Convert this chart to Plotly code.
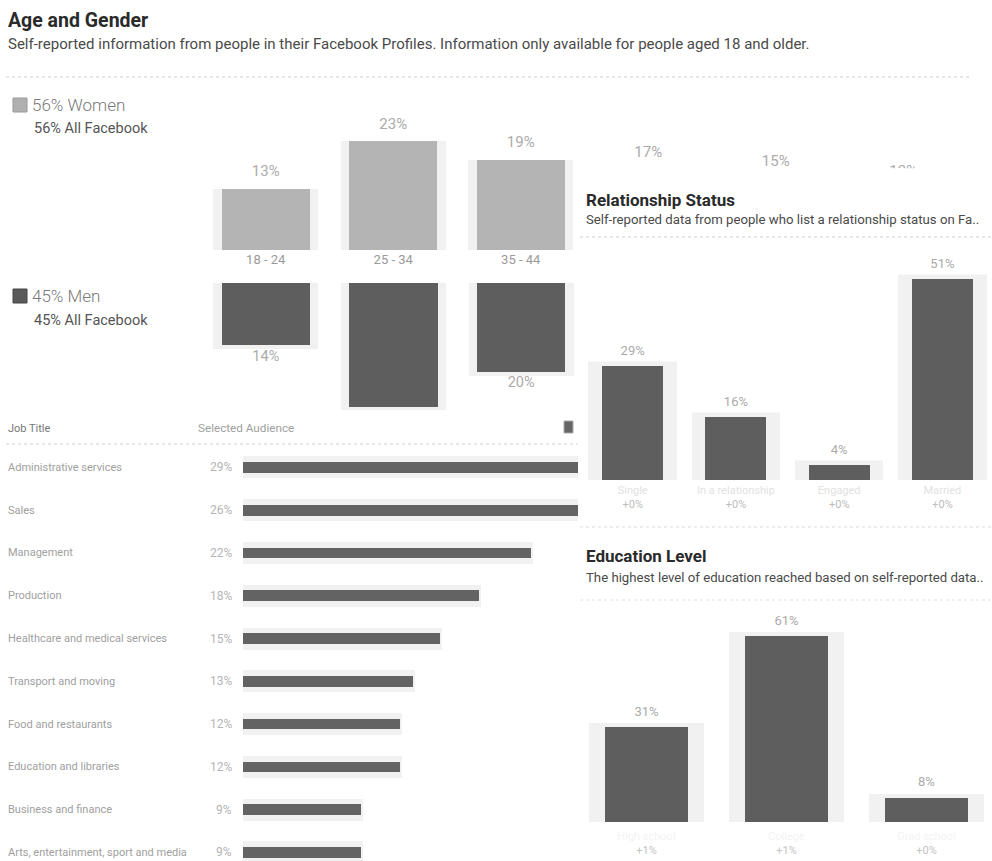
import plotly.graph_objects as go

W, H = 992, 861


def px(x):
    return x / W


def py(y):
    return 1 - y / H


# ---------------- data ----------------
age_groups = ["18 - 24", "25 - 34", "35 - 44", "45 - 54", "55 - 64", "65+"]
women_pct = [13, 23, 19, 17, 15, 13]
men_groups = ["18 - 24", "25 - 34", "35 - 44"]
men_pct = [14, 28, 20]

job_titles = [
    "Administrative services",
    "Sales",
    "Management",
    "Production",
    "Healthcare and medical services",
    "Transport and moving",
    "Food and restaurants",
    "Education and libraries",
    "Business and finance",
    "Arts, entertainment, sport and media",
]
job_pct = [29, 26, 22, 18, 15, 13, 12, 12, 9, 9]

rel_status = ["Single", "In a relationship", "Engaged", "Married"]
rel_pct = [29, 16, 4, 51]
rel_change = ["+0%", "+0%", "+0%", "+0%"]

edu_levels = ["High school", "College", "Grad school"]
edu_pct = [31, 61, 8]
edu_change = ["+1%", "+1%", "+0%"]

# ---------------- style ----------------
FONT = "Roboto"
HALO = "#f1f1f1"
WOMEN = "#b4b4b4"
DARK = "#5e5e5e"
LABEL = "#ababab"

fig = go.Figure()


def halo_bar(x, y, width, xa, ya, orientation="v", line=8):
    return go.Bar(
        x=x, y=y, width=width, orientation=orientation,
        marker=dict(color=HALO, line=dict(color=HALO, width=line)),
        xaxis=xa, yaxis=ya, hoverinfo="skip",
    )


def main_bar(x, y, width, color, xa, ya, orientation="v"):
    return go.Bar(
        x=x, y=y, width=width, orientation=orientation,
        marker=dict(color=color, line=dict(width=0)),
        xaxis=xa, yaxis=ya, hoverinfo="skip",
    )


def value_text(x, y, xa, ya, pos, size, fsize, clip):
    return go.Scatter(
        x=x, y=y, mode="markers+text", text=[f"{v}%" for v in y],
        textposition=pos,
        marker=dict(size=size, color="rgba(0,0,0,0)"),
        textfont=dict(family=FONT, size=fsize, color=LABEL),
        cliponaxis=clip, xaxis=xa, yaxis=ya, hoverinfo="skip",
    )


# Women (top, upward) - right half sits under the Relationship panel
fig.add_trace(halo_bar(age_groups, women_pct, 0.82, "x", "y", line=0))
fig.add_trace(main_bar(age_groups, women_pct, 0.69, WOMEN, "x", "y"))
fig.add_trace(value_text(age_groups, women_pct, "x", "y", "top center", 13, 15, False))

# Men (hanging downward)
fig.add_trace(halo_bar(men_groups, men_pct, 0.76, "x2", "y2"))
fig.add_trace(main_bar(men_groups, men_pct, 0.69, DARK, "x2", "y2"))
fig.add_trace(value_text(men_groups, men_pct, "x2", "y2", "bottom center", 6, 14.5, True))

# Job titles (horizontal)
fig.add_trace(halo_bar(job_pct, job_titles, 0.42, "x3", "y3", orientation="h", line=4))
fig.add_trace(main_bar(job_pct, job_titles, 0.25, "#636363", "x3", "y3", orientation="h"))

# Relationship status
fig.add_trace(halo_bar(rel_status, rel_pct, 0.78, "x4", "y4"))
fig.add_trace(main_bar(rel_status, rel_pct, 0.59, DARK, "x4", "y4"))
fig.add_trace(value_text(rel_status, rel_pct, "x4", "y4", "top center", 10, 13, False))

# Education level
fig.add_trace(halo_bar(edu_levels, edu_pct, 0.76, "x5", "y5"))
fig.add_trace(main_bar(edu_levels, edu_pct, 0.59, DARK, "x5", "y5"))
fig.add_trace(value_text(edu_levels, edu_pct, "x5", "y5", "top center", 11, 13, False))

noax = dict(showgrid=False, zeroline=False, showline=False, ticks="",
            showticklabels=False, fixedrange=True)

rel_ticks = [f"<span style='color:#e2e2e2'>{c}</span><br>{d}" for c, d in zip(rel_status, rel_change)]
edu_ticks = [f"<span style='color:#f3f3f3'>{c}</span><br>{d}" for c, d in zip(edu_levels, edu_change)]

REL_TOP = 168.5  # top edge of the relationship card (covers the right half of the age chart)

fig.update_layout(
    width=W, height=H,
    margin=dict(l=0, r=0, t=0, b=0),
    paper_bgcolor="white", plot_bgcolor="white",
    showlegend=False, barmode="overlay", bargap=0,
    font=dict(family=FONT, color="#555"),
    xaxis=dict(noax, domain=[px(202), px(202 + 6 * 127.5)], range=[-0.5, 5.5], type="category",
               categoryorder="array", categoryarray=age_groups, showticklabels=True,
               tickfont=dict(family=FONT, size=13, color="#9a9a9a"), anchor="y"),
    yaxis=dict(noax, domain=[py(250), py(100)], range=[0, 150 / 4.72], anchor="x"),
    xaxis2=dict(noax, domain=[px(202), px(585)], range=[-0.5, 2.5], type="category",
                categoryorder="array", categoryarray=age_groups, anchor="y2"),
    yaxis2=dict(noax, domain=[py(410), py(283)], range=[127 / 4.43, 0], anchor="x2"),
    xaxis3=dict(noax, domain=[px(243), px(578)], range=[0, 335 / 13.1], anchor="y3"),
    yaxis3=dict(noax, domain=[0, py(446)], range=[9.2, -0.5], type="category",
                categoryorder="array", categoryarray=job_titles, anchor="x3"),
    xaxis4=dict(noax, domain=[px(579), px(992)], range=[-0.52, 3.48], type="category",
                categoryorder="array", categoryarray=rel_status, showticklabels=True,
                tickmode="array", tickvals=rel_status, ticktext=rel_ticks,
                ticklabelstandoff=2,
                tickfont=dict(family=FONT, size=11, color="#bdbdbd"), anchor="y4"),
    yaxis4=dict(noax, domain=[py(480), py(REL_TOP)], range=[0, (480 - REL_TOP) / 3.95], anchor="x4"),
    xaxis5=dict(noax, domain=[px(578), px(992)], range=[-0.489, 2.468], type="category",
                categoryorder="array", categoryarray=edu_levels, showticklabels=True,
                tickmode="array", tickvals=edu_levels, ticktext=edu_ticks,
                ticklabelstandoff=6,
                tickfont=dict(family=FONT, size=11, color="#c4c4c4"), anchor="y5"),
    yaxis5=dict(noax, domain=[py(822), py(610)], range=[0, 212 / 3.05], anchor="x5"),
)

# white card of the relationship panel, drawn in its own subplot layer
fig.add_shape(type="rect", xref="x4", yref="y4", x0=-2, x1=6, y0=-20, y1=200,
              fillcolor="white", line=dict(width=0), layer="below")

# ---------------- text ----------------
def note(text, x, y, size, color="#555", xanchor="left", weight=None, yref="paper"):
    f = dict(family=FONT, size=size, color=color)
    if weight:
        f["weight"] = weight
    fig.add_annotation(text=text, x=px(x), y=py(y) if yref == "paper" else y,
                       xref="paper", yref=yref, xanchor=xanchor, yanchor="middle",
                       showarrow=False, font=f)


note("<b>Age and Gender</b>", 6, 20, 19.5, "#2a2a2a")
note("Self-reported information from people in their Facebook Profiles. Information only available for people aged 18 and older.",
     6, 44, 15, "#4a4a4a")
note("56% Women", 30, 105, 17, "#7a7a7a", weight=300)
note("56% All Facebook", 32, 128, 14.5, "#555")
note("45% Men", 30, 296, 17, "#7a7a7a", weight=300)
note("45% All Facebook", 32, 320, 14.5, "#555")

note("Job Title", 6, 428, 11, "#777")
note("Selected Audience", 196, 428, 11.7, "#a0a0a0")
for t, v in zip(job_titles, job_pct):
    note(t, 6, t, 11, "#a0a0a0", yref="y3")
    note(f"{v}%", 234, t, 12, "#b5b5b5", xanchor="right", yref="y3")

note("<b>Relationship Status</b>", 584, 200, 17, "#2a2a2a")
note("Self-reported data from people who list a relationship status on Fa..", 584, 219, 13.2, "#4a4a4a")
note("<b>Education Level</b>", 584, 556, 17, "#2a2a2a")
note("The highest level of education reached based on self-reported data..", 584, 577, 13.2, "#4a4a4a")

# ---------------- decorations ----------------
def hline(x0, x1, y, color="#cfcfcf"):
    fig.add_shape(type="line", xref="paper", yref="paper", x0=px(x0), x1=px(x1),
                  y0=py(y), y1=py(y), line=dict(color=color, width=1, dash="dot"))


hline(6, 970, 77)
hline(6, 578, 444)
hline(580, 992, 237)
hline(580, 992, 527, "#dddddd")
hline(580, 992, 600, "#e2e2e2")


def square(x0, y0, x1, y1, fill, line):
    fig.add_shape(type="rect", xref="paper", yref="paper", x0=px(x0), x1=px(x1),
                  y0=py(y1), y1=py(y0), fillcolor=fill, line=dict(color=line, width=1))


square(13, 98, 27, 112, "#b0b0b0", "#999999")
square(13, 289, 27, 303, "#5a5a5a", "#444444")
square(564, 421, 573, 433, "#666666", "#aaaaaa")

fig.write_html("out.html")
